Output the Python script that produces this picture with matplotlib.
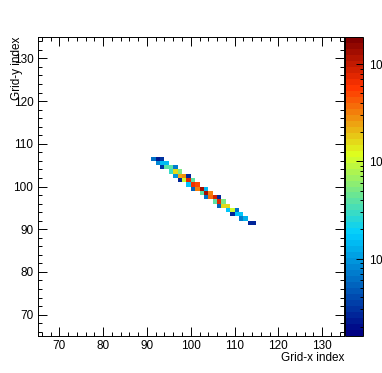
import numpy as np
import matplotlib
matplotlib.use('Agg')
import matplotlib.pyplot as plt
from matplotlib.colors import LogNorm, LinearSegmentedColormap
from matplotlib.ticker import MultipleLocator, LogLocator, FuncFormatter

plt.rcParams['font.family'] = ['Liberation Sans', 'DejaVu Sans']
plt.rcParams['mathtext.fontset'] = 'custom'
plt.rcParams['mathtext.rm'] = 'Liberation Sans'
plt.rcParams['mathtext.it'] = 'Liberation Sans:italic'

# cell positions (grid index) and counts
x_idx = [91, 92, 93,
         92, 93, 94,
         93, 94, 95, 96,
         95, 96, 97,
         96, 97, 98, 99,
         97, 98, 99, 100,
         99, 100, 101,
         100, 101, 102, 103,
         102, 103, 104,
         103, 104, 105, 106,
         105, 106, 107,
         106, 107, 108,
         108, 109, 110,
         109, 110, 111,
         111, 112,
         113, 114]
y_idx = [106, 106, 106,
         105, 105, 105,
         104, 104, 104, 104,
         103, 103, 103,
         102, 102, 102, 102,
         101, 101, 101, 101,
         100, 100, 100,
         99, 99, 99, 99,
         98, 98, 98,
         97, 97, 97, 97,
         96, 96, 96,
         95, 95, 95,
         94, 94, 94,
         93, 93, 93,
         92, 92,
         91, 91]
counts = [6, 2.3, 3,
          8, 15, 14,
          3, 38, 40, 7,
          30, 150, 50,
          10, 230, 300, 2.5,
          2.5, 100, 800, 40,
          17, 700, 500,
          5, 330, 1400, 14,
          40, 1400, 320,
          6, 350, 900, 2.5,
          40, 800, 55,
          5, 170, 170,
          16, 110, 6,
          2.5, 16, 17,
          7, 12,
          2.5, 2.5]

x_edges = np.arange(65, 136)
y_edges = np.arange(65, 136)
H = np.full((len(y_edges) - 1, len(x_edges) - 1), np.nan)
for xi, yi, c in zip(x_idx, y_idx, counts):
    H[yi - 65, xi - 65] = c

# ROOT style gradient palette, 50 contours
stops = [0.0, 0.34, 0.61, 0.84, 1.0]
reds = [0.0, 0.0, 0.87, 1.0, 0.51]
greens = [0.0, 0.81, 1.0, 0.2, 0.0]
blues = [0.51, 1.0, 0.12, 0.0, 0.0]
cmap = LinearSegmentedColormap.from_list(
    'rootpal', list(zip(stops, zip(reds, greens, blues))), N=50)

W, Hpx = 382, 373
fig = plt.figure(figsize=(W / 100, Hpx / 100), dpi=100)
ax = fig.add_axes([37.5 / W, (Hpx - 336) / Hpx, (344 - 37.5) / W, (336 - 37) / Hpx])
cax = fig.add_axes([345 / W, (Hpx - 336) / Hpx, 18 / W, (336 - 37) / Hpx])

mesh = ax.pcolormesh(x_edges, y_edges, H, cmap=cmap,
                     norm=LogNorm(vmin=1.6, vmax=1900))

ax.set_xlim(65, 135)
ax.set_ylim(65, 135)
ax.xaxis.set_major_locator(MultipleLocator(10))
ax.xaxis.set_minor_locator(MultipleLocator(2))
ax.yaxis.set_major_locator(MultipleLocator(10))
ax.yaxis.set_minor_locator(MultipleLocator(2))
ax.tick_params(which='both', direction='in', top=True, right=True,
               labelsize=8.5, width=0.7)
ax.tick_params(which='major', length=6.5, pad=3)
ax.tick_params(which='minor', length=3.2)
for s in ax.spines.values():
    s.set_linewidth(0.7)

ax.set_xlabel('Grid-x index', fontsize=8.5, loc='right')
ax.set_ylabel('Grid-y index', fontsize=8.5, loc='top')
ax.xaxis.set_label_coords(1.0, -0.055)
ax.yaxis.set_label_coords(-0.047, 1.0)

cb = fig.colorbar(mesh, cax=cax)
cb.outline.set_linewidth(0.7)
cax.yaxis.set_major_locator(LogLocator(base=10))
cax.yaxis.set_minor_locator(LogLocator(base=10, subs=np.arange(2, 10)))
cax.yaxis.set_major_formatter(FuncFormatter(
    lambda v, p: r'$\mathregular{10^{%d}}$' % round(np.log10(v))))
cax.tick_params(which='both', direction='in', labelsize=8.5, width=0.7, pad=4)
cax.tick_params(which='major', length=5)
cax.tick_params(which='minor', length=2.5)

fig.savefig('out.png', dpi=100)
